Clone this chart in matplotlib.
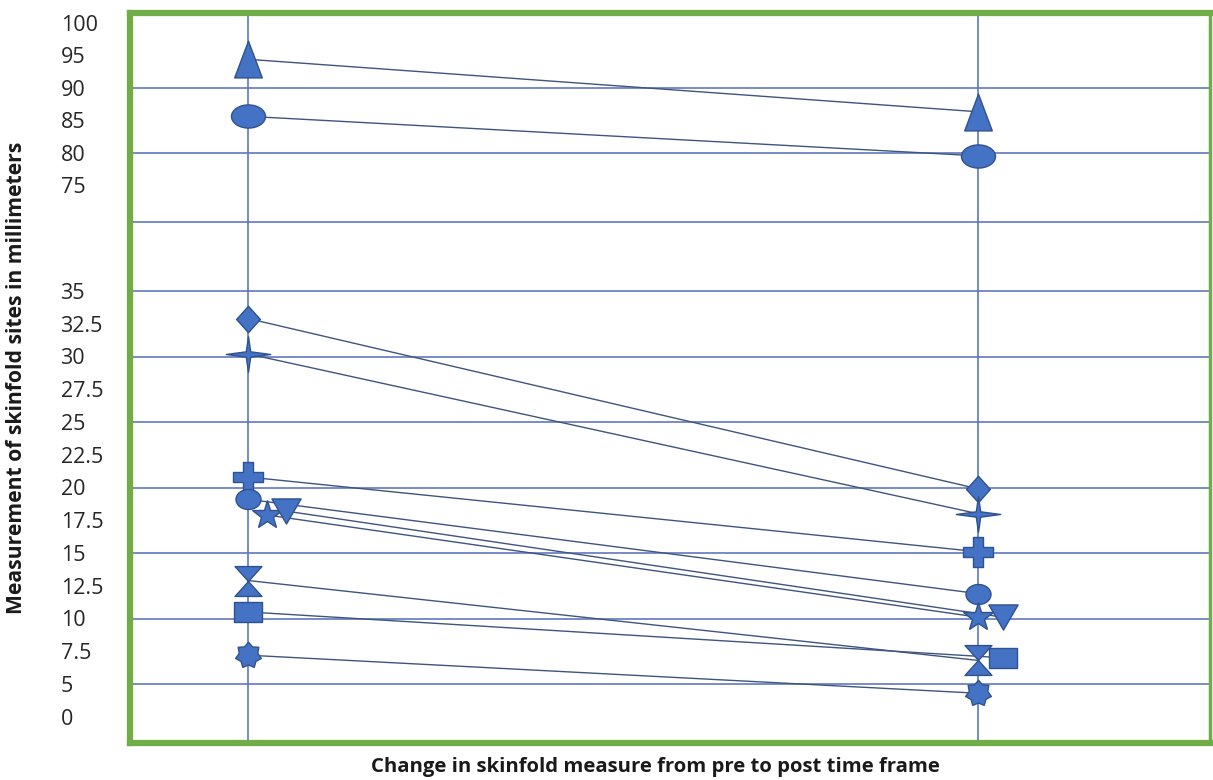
import numpy as np
import matplotlib
matplotlib.use("Agg")
import matplotlib.pyplot as plt
from matplotlib.path import Path
from matplotlib.transforms import Affine2D

plt.rcParams['font.family'] = ['Open Sans', 'DejaVu Sans']

# pre / post skinfold values (mm), one entry per site marker
sites = ["triangle", "ellipse", "diamond", "star4", "plus", "circle",
         "star5", "tri_down", "hourglass", "square", "badge"]
pre = [94.4, 85.6, 32.9, 30.2, 20.8, 19.1, 17.9, 18.2, 12.9, 10.5, 7.2]
post = [86.3, 79.5, 19.9, 18.0, 15.1, 11.9, 10.1, 10.1, 6.8, 7.0, 3.6]

y_ticks = [100, 95, 90, 85, 80, 75, 35, 32.5, 30, 27.5, 25, 22.5,
           20, 17.5, 15, 12.5, 10, 7.5, 5, 0]
grid_vals = [90, 80, 61, 35, 30, 25, 20, 15, 10, 5]

# broken y axis: piecewise linear mapping value -> position
scale_vals = [-20, 0, 5, 35, 75, 100, 120]
scale_pos = [-106, 26, 59, 452, 558, 720, 849.6]


def fwd(v):
    return np.interp(v, scale_vals, scale_pos)


def inv(p):
    return np.interp(p, scale_pos, scale_vals)


def poly(pts):
    return Path(pts + [pts[0]], closed=True)


markers = {
    "triangle": (poly([(0, 1), (-0.75, -1), (0.75, -1)]), 26.5),
    "ellipse": (Affine2D().scale(1, 0.68).transform_path(Path.unit_circle()), 24.5),
    "diamond": (poly([(0, 1), (0.9, 0), (0, -1), (-0.9, 0)]), 19),
    "star4": (poly([(1, 0), (0.1, 0.12), (0, 0.8), (-0.1, 0.12), (-1, 0),
                    (-0.1, -0.12), (0, -0.8), (0.1, -0.12)]), 32),
    "plus": (poly([(-0.33, 1), (0.33, 1), (0.33, 0.33), (1, 0.33), (1, -0.33),
                   (0.33, -0.33), (0.33, -1), (-0.33, -1), (-0.33, -0.33),
                   (-1, -0.33), (-1, 0.33), (-0.33, 0.33)]), 22),
    "circle": (Affine2D().scale(1, 0.8).transform_path(Path.unit_circle()), 18),
    "star5": ("*", 22),
    "tri_down": (poly([(-1, 0.86), (1, 0.86), (0, -0.86)]), 21),
    "hourglass": (poly([(-0.9, 1), (0.9, 1), (0, 0), (0.9, -1), (-0.9, -1), (0, 0)]), 21.5),
    "square": (poly([(-1, -0.72), (1, -0.72), (1, 0.72), (-1, 0.72)]), 20),
    "badge": (Path.unit_regular_star(7, 0.72), 19),
}

# small sideways shifts where markers would sit on top of each other
pre_shift = {"star5": 0.026, "tri_down": 0.052}
post_shift = {"tri_down": 0.034, "square": 0.034}

face = "#4472C4"
edge = "#2F528F"

fig = plt.figure(figsize=(12.13, 7.80), dpi=100)
ax = fig.add_axes([130 / 1213, 1 - 743 / 780, 1080 / 1213, 730 / 780])
ax.set_yscale('function', functions=(fwd, inv))
ax.set_ylim(inv(0), inv(730))
ax.set_xlim(-0.1616, 1.3178)

for g in grid_vals:
    ax.axhline(g, color="#6079c0", lw=1.2, zorder=1)
for xv in [0, 1]:
    ax.axvline(xv, color="#5a78c8", lw=1.2, zorder=1)

for name, a, b in zip(sites, pre, post):
    x0 = 0 + pre_shift.get(name, 0)
    x1 = 1 + post_shift.get(name, 0)
    ax.plot([x0, x1], [a, b], color="#3f5480", lw=1.0, zorder=2)
    m, ms = markers[name]
    ax.plot([x0, x1], [a, b], ls="none", marker=m, ms=ms,
            mfc=face, mec=edge, mew=1.0, zorder=3)

ax.set_yticks(y_ticks)
ax.set_yticklabels([f"{v:g}" for v in y_ticks])
ax.set_xticks([])
ax.tick_params(axis='y', length=0, pad=50, labelsize=15.5, labelcolor="#262626")
for lbl in ax.get_yticklabels():
    lbl.set_horizontalalignment('left')

for sp in ax.spines.values():
    sp.set_color("#70AD47")
    sp.set_linewidth(4.5)
ax.spines['right'].set_linewidth(2.5)

fig.text(17 / 1213, 1 - 378 / 780, "Measurement of skinfold sites in millimeters",
         rotation=90, ha='center', va='center', fontsize=15.2,
         fontweight='bold', color="#1a1a1a")
fig.text(655 / 1213, 1 - 767 / 780, "Change in skinfold measure from pre to post time frame",
         ha='center', va='center', fontsize=14.6, fontweight='bold', color="#1a1a1a")

fig.savefig("out.png", dpi=100)
plt.close(fig)
